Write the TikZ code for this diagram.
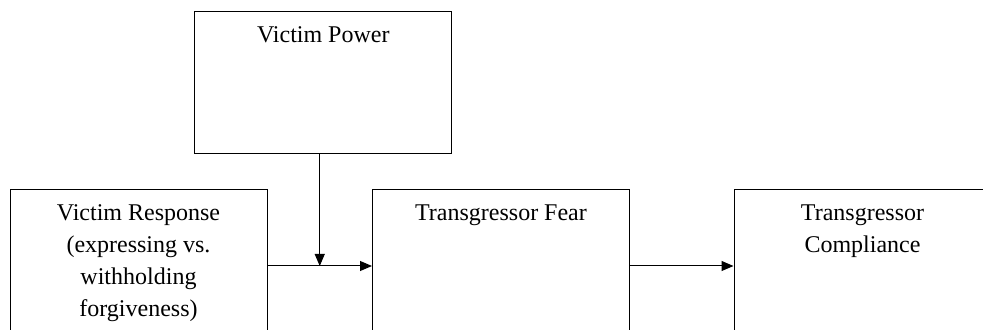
\documentclass[tikz,border=0pt]{standalone}
\usepackage{fontspec}
\setmainfont{Liberation Serif}
\usepackage{tikz}
\usetikzlibrary{calc,arrows.meta}
\tikzset{
    varbox/.style={draw=black, line width=0.5pt, rectangle, minimum width=128.5pt, inner sep=0pt},
    vartext/.style={anchor=north, inner sep=0pt, yshift=-7.5pt, align=center,
        font=\fontsize{12pt}{16pt}\selectfont},
    effect/.style={line width=0.5pt, -{Triangle[length=6pt,width=5pt]}},
}

\begin{document}
\begin{tikzpicture}[x=0.5pt,y=-0.5pt]
\useasboundingbox (0,0) rectangle (983,330);
\clip (0,0) rectangle (983,330);
%\draw[step=50,lightgray,very thin] (0,0) grid (983,330);
\node[varbox, minimum height=71pt, label={[vartext]north:Victim Power}] (power) at (323.3,83) {};
\node[varbox, minimum height=76pt, label={[vartext]north:Victim Response\\(expressing vs.\\withholding\\forgiveness)}] (resp) at (138.5,266) {};
\node[varbox, minimum height=76pt, label={[vartext]north:Transgressor Fear}] (fear) at (501,266) {};
\node[varbox, minimum height=76pt, label={[vartext]north:Transgressor\\Compliance}] (comp) at (862.5,266) {};
\coordinate (meet) at ($(resp.east)!0.5!(fear.west)$);
\draw[effect] (resp.east) -- (fear.west);
\draw[effect] (power.south -| meet) -- (meet);
\draw[effect] (fear.east) -- (comp.west);
\end{tikzpicture}
\end{document}
